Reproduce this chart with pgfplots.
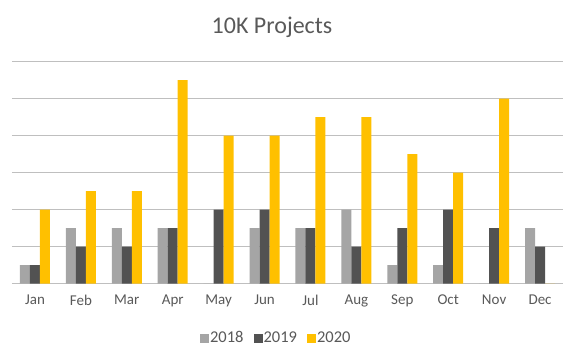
\documentclass[border=0pt]{standalone}
\usepackage{fontspec}
\setmainfont{Carlito}
\usepackage{pgfplots}
\pgfplotsset{compat=1.18}
\definecolor{txt}{HTML}{595959}
\definecolor{grid}{HTML}{D9D9D9}
\definecolor{cA}{HTML}{A5A5A5}
\definecolor{cB}{HTML}{525252}
\definecolor{cC}{HTML}{FFC000}
\begin{document}
\begin{tikzpicture}
\path (-12pt,-71.3pt) rectangle (560pt,283.7pt);
\begin{axis}[
  at={(0,0)}, anchor=south west,
  scale only axis, width=551pt, height=222pt,
  ybar=0pt, bar width=10pt,
  xmin=-0.5, xmax=11.5, ymin=0, ymax=12,
  xtick={0,...,11},
  xticklabels={Jan,Feb,Mar,Apr,May,Jun,Jul,Aug,Sep,Oct,Nov,Dec},
  ytick={0,2,...,12}, yticklabels={},
  major tick length=0pt,
  xmajorgrids=false, ymajorgrids=true, grid style={grid, line width=0.75pt},
  axis line style={draw=none},
  tick label style={font=\fontsize{15}{18}\selectfont, text=txt},
  xticklabel style={yshift=-8pt},
  title={10K Projects},
  title style={font=\fontsize{24}{28}\selectfont, text=txt, at={(axis description cs:0.5,1.127)}, anchor=center, xshift=-15.5pt},
  legend style={at={(axis description cs:0.5,-0.245)}, anchor=center, xshift=-11.7pt, draw=none,
    legend columns=-1, font=\fontsize{16.5}{19}\selectfont, text=txt,
    nodes={inner sep=1pt},
    /tikz/every odd column/.append style={column sep=0pt},
    /tikz/every even column/.append style={column sep=9pt}},
  legend image code/.code={\fill[#1] (0pt,-4.5pt) rectangle (9pt,4.5pt);},
]
\addplot[fill=cA, draw=none] coordinates {(0,1) (1,3) (2,3) (3,3) (4,0) (5,3) (6,3) (7,4) (8,1) (9,1) (10,0) (11,3)};
\addplot[fill=cB, draw=none] coordinates {(0,1) (1,2) (2,2) (3,3) (4,4) (5,4) (6,3) (7,2) (8,3) (9,4) (10,3) (11,2)};
\addplot[fill=cC, draw=none] coordinates {(0,4) (1,5) (2,5) (3,11) (4,8) (5,8) (6,9) (7,9) (8,7) (9,6) (10,10) (11,0)};
\legend{2018,2019,2020}
\end{axis}
\end{tikzpicture}
\end{document}
